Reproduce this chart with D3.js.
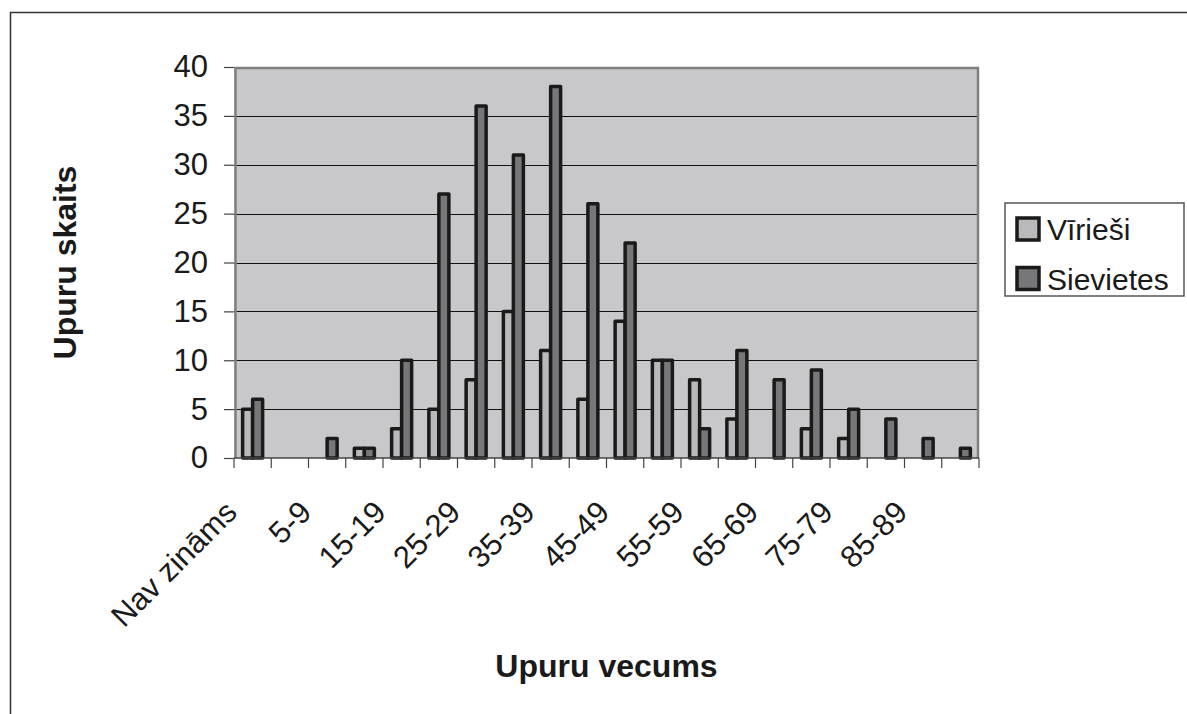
<!DOCTYPE html>
<html>
<head>
<meta charset="utf-8">
<script src="https://cdn.jsdelivr.net/npm/d3@7"></script>
<style>
  body { margin: 0; background: #fff; }
  svg { display: block; font-family: "Liberation Sans", Arial, sans-serif; }
</style>
</head>
<body>
<svg id="chart" width="1187" height="714"></svg>
<script>
// age groups, every second label is shown on the axis
const categories = ['Nav zināms', '0-4', '5-9', '10-14', '15-19', '20-24', '25-29', '30-34', '35-39', '40-44',
  '45-49', '50-54', '55-59', '60-64', '65-69', '70-74', '75-79', '80-84', '85-89', '90+'];
const series = ['Vīrieši', 'Sievietes'];
const virieshi = [5, 0, 0, 1, 3, 5, 8, 15, 11, 6, 14, 10, 8, 4, 0, 3, 2, 0, 0, 0];
const sievietes = [6, 0, 2, 1, 10, 27, 36, 31, 38, 26, 22, 10, 3, 11, 8, 9, 5, 4, 2, 1];
const yTicks = [0, 5, 10, 15, 20, 25, 30, 35, 40];

const colors = { 'Vīrieši': '#b9b9bb', 'Sievietes': '#77777a' };
const margin = { top: 67, right: 208, bottom: 256, left: 234 };

const svg = d3.select('#chart');
const W = +svg.attr('width'), H = +svg.attr('height');
const width = W - margin.left - margin.right;
const height = H - margin.top - margin.bottom;

// outer frame (only left and top are visible in the picture)
svg.append('path')
    .attr('d', `M10.5,${H} V12.5 H${W}`)
    .attr('fill', 'none')
    .attr('stroke', '#333')
    .attr('stroke-width', 1.5);

const x0 = d3.scaleBand().domain(categories).range([0, width]).paddingInner(0).paddingOuter(0);
const x1 = d3.scaleBand().domain(series).range([0, 20]);
const y = d3.scaleLinear().domain([0, 40]).range([height, 0]);

const g = svg.append('g').attr('transform', `translate(${margin.left}, ${margin.top})`);

g.append('rect')
    .attr('width', width)
    .attr('height', height)
    .attr('fill', '#c8c8ca');

g.append('g')
  .selectAll('line')
  .data(yTicks.filter(d => d > 0 && d < 40))
  .join('line')
    .attr('x1', 0)
    .attr('x2', width)
    .attr('y1', d => Math.round(y(d)) + 0.5)
    .attr('y2', d => Math.round(y(d)) + 0.5)
    .attr('stroke', '#111')
    .attr('stroke-width', 1.2);

// plot border, gray
g.append('path')
    .attr('d', `M1.5,${height} V1 H${width - 1} V${height}`)
    .attr('fill', 'none')
    .attr('stroke', '#808080')
    .attr('stroke-width', 2.5);

const rows = categories.map((c, i) => ({ cat: c, values: [
  { key: 'Vīrieši', value: virieshi[i] },
  { key: 'Sievietes', value: sievietes[i] }
] }));

const off = (x0.bandwidth() - 20) / 2;
g.append('g')
  .selectAll('g')
  .data(rows)
  .join('g')
    .attr('transform', d => `translate(${x0(d.cat) + off}, 0)`)
  .selectAll('rect')
  .data(d => d.values.filter(v => v.value > 0))
  .join('rect')
    .attr('x', d => x1(d.key))
    .attr('y', d => y(d.value))
    .attr('width', x1.bandwidth())
    .attr('height', d => height - y(d.value))
    .attr('fill', d => colors[d.key])
    .attr('stroke', '#1a1a1a')
    .attr('stroke-width', 3.5)
    .attr('stroke-linejoin', 'round');

// x axis line and ticks at the category boundaries
const xAxis = g.append('g').attr('transform', `translate(0, ${height})`);
xAxis.append('line')
    .attr('x1', 0).attr('x2', width)
    .attr('stroke', '#444').attr('stroke-width', 1.5);
xAxis.selectAll('line.tick')
  .data(categories.concat(['end']))
  .join('line')
    .attr('class', 'tick')
    .attr('x1', d => d === 'end' ? width : x0(d))
    .attr('x2', d => d === 'end' ? width : x0(d))
    .attr('y1', 0).attr('y2', 10)
    .attr('stroke', '#444').attr('stroke-width', 1.2);
xAxis.selectAll('text')
  .data(categories.filter((d, i) => i % 2 === 0))
  .join('text')
    .attr('transform', d => `translate(${x0(d) + x0.bandwidth() / 2 - 14}, 56) rotate(-45)`)
    .attr('text-anchor', 'end')
    .attr('font-size', 31)
    .attr('fill', '#1a1a1a')
    .text(d => d);

const yAxis = g.append('g')
    .call(d3.axisLeft(y).tickValues(yTicks).tickSize(10).tickPadding(16));
yAxis.select('.domain').remove();
yAxis.selectAll('.tick line').attr('stroke', '#444').attr('stroke-width', 1.2);
yAxis.selectAll('.tick text')
    .attr('font-size', 31)
    .attr('fill', '#1a1a1a')
    .attr('font-family', '"Liberation Sans", Arial, sans-serif');

// titles
svg.append('text')
    .attr('x', margin.left + width / 2)
    .attr('y', 677)
    .attr('text-anchor', 'middle')
    .attr('font-size', 32)
    .attr('font-weight', 'bold')
    .attr('fill', '#1a1a1a')
    .text('Upuru vecums');

svg.append('text')
    .attr('transform', `translate(76, ${margin.top + height / 2}) rotate(-90)`)
    .attr('text-anchor', 'middle')
    .attr('font-size', 32)
    .attr('font-weight', 'bold')
    .attr('fill', '#1a1a1a')
    .text('Upuru skaits');

// legend
const legend = svg.append('g').attr('transform', 'translate(1005, 203)');
legend.append('rect')
    .attr('width', 179)
    .attr('height', 93)
    .attr('fill', '#fff')
    .attr('stroke', '#555')
    .attr('stroke-width', 1.5);
const item = legend.selectAll('g.item')
  .data(series)
  .join('g')
    .attr('class', 'item')
    .attr('transform', (d, i) => `translate(12, ${15 + i * 49.5})`);
item.append('rect')
    .attr('width', 22)
    .attr('height', 22)
    .attr('fill', d => colors[d])
    .attr('stroke', '#1a1a1a')
    .attr('stroke-width', 3.5);
item.append('text')
    .attr('x', 30)
    .attr('y', 22)
    .attr('font-size', 30)
    .attr('fill', '#1a1a1a')
    .text(d => d);
</script>
</body>
</html>
